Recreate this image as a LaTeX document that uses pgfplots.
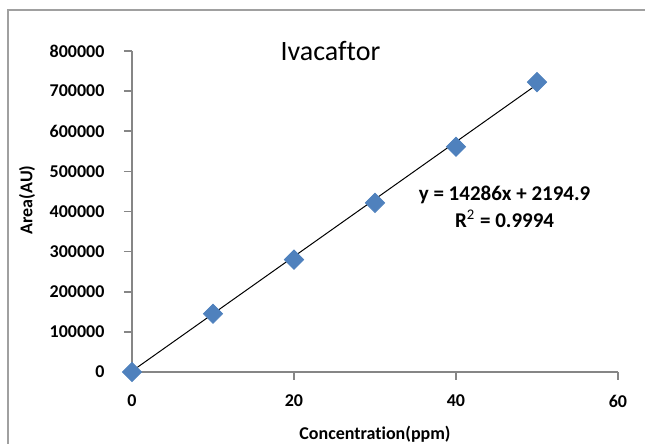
\documentclass[border=0pt]{standalone}
\usepackage{pgfplots}
\pgfplotsset{compat=1.18}
\usetikzlibrary{calc}
\usepackage{fontspec}
\setmainfont{Carlito}[Ligatures={NoCommon}]
\definecolor{exblue}{RGB}{79,129,189}
\definecolor{axgray}{RGB}{134,134,134}
\definecolor{frame}{RGB}{160,160,160}
\begin{document}
\begin{tikzpicture}[x=0.5pt,y=0.5pt]
\useasboundingbox (0,0) rectangle (645,444);
\draw[frame, line width=1pt] (8,-20) -- (8,434) -- (720,434);
\begin{axis}[
    at={(132pt*0.5,72pt*0.5)}, anchor=origin,
    scale only axis, width=243pt, height=160.5pt,
    xmin=0, xmax=60, ymin=0, ymax=800000,
    xtick={0,20,40,60}, ytick={0,100000,...,800000},
    axis lines=left, axis line style={axgray, line width=0.8pt, -},
    tick style={axgray, line width=0.8pt},
    tick align=outside, major tick length=4pt,
    xtick pos=bottom, ytick pos=left,
    scaled y ticks=false,
    /pgf/number format/assume math mode=true,
    yticklabel={\pgfmathprintnumber[fixed,precision=0,1000 sep={}]{\tick}},
    ticklabel style={font=\bfseries\fontsize{9}{10}\selectfont, text=black},
    xticklabel style={yshift=-4pt},
    yticklabel style={xshift=-6.25pt},
    xlabel={Concentration(ppm)}, ylabel={Area(AU)},
    label style={font=\bfseries\fontsize{9}{10}\selectfont},
    xlabel style={at={($(rel axis cs:0.5,0)+(0,-31pt)$)}, anchor=center},
    ylabel style={at={($(rel axis cs:0,0.536)+(-52.5pt,0)$)}, anchor=center},
    clip=false,
]
\addplot[only marks, mark=square*, mark size=3.4pt,
    mark options={rotate=45, fill=exblue, draw=exblue}]
    coordinates {(0,0) (10,145000) (20,280000) (30,421500) (40,561500) (50,722500)};
\addplot[black, line width=0.5pt] coordinates {(0,2194.9) (50,716494.9)};
\node[font=\fontsize{14}{16}\selectfont] at (axis cs:24.5,800000) {Ivacaftor};
\node[font=\bfseries\fontsize{10.5}{12.5}\selectfont, align=center] at (axis cs:46,412400)
    {y = 14286x + 2194.9\\[1pt]R$^{\mathrm{2}}$ = 0.9994};
\end{axis}
\end{tikzpicture}
\end{document}
